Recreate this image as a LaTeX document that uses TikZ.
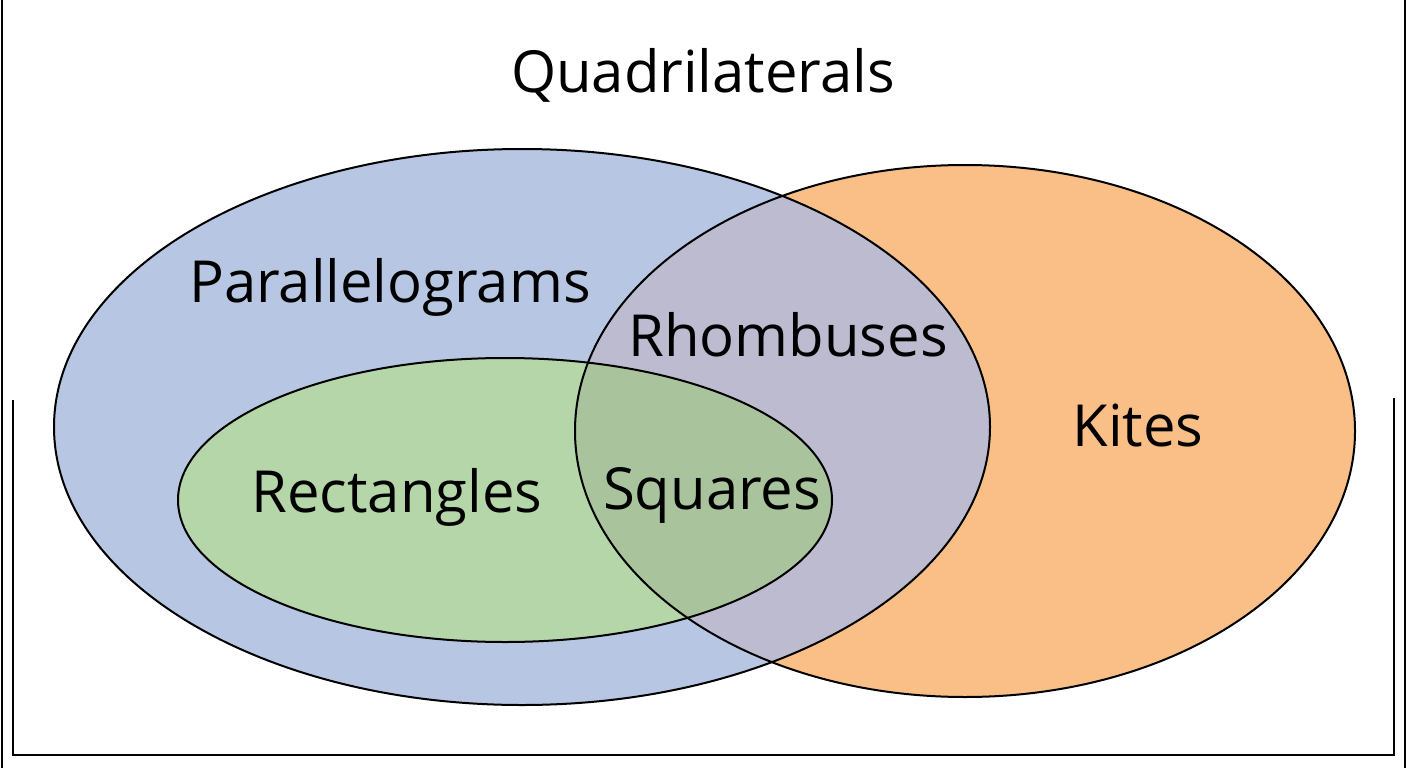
\documentclass[tikz,border=0pt]{standalone}
\usepackage{fontspec}
\setmainfont{Open Sans}
\begin{document}
\begin{tikzpicture}[x=1pt,y=-1pt,
  lab/.style={font=\fontsize{58}{62}\selectfont,text=black},
  edge/.style={draw=black,line width=2pt}]
\useasboundingbox (0,0) rectangle (1408,768);
\fill[white] (0,0) rectangle (1408,768);
\def\blue{(522,427) ellipse [x radius=468, y radius=278]}
\def\orange{(965,431) ellipse [x radius=390, y radius=266]}
\def\green{(505,500) ellipse [x radius=327, y radius=142]}
\fill[fill={rgb,255:red,183;green,199;blue,227}] \blue;
\fill[fill={rgb,255:red,249;green,191;blue,135}] \orange;
\begin{scope}\clip \blue; \fill[fill={rgb,255:red,188;green,187;blue,207}] \orange;\end{scope}
\fill[fill={rgb,255:red,181;green,214;blue,168}] \green;
\begin{scope}\clip \green; \fill[fill={rgb,255:red,169;green,196;blue,156}] \orange;\end{scope}
\draw[edge] \blue; \draw[edge] \orange; \draw[edge] \green;
\draw[line width=2pt] (2,0) -- (2,768);
\draw[line width=2pt] (1405,0) -- (1405,768);
\draw[line width=2.4pt] (13,400) -- (13,755) -- (1394,755) -- (1394,398);
\node[lab] (q) at (703,75) {Quadrilaterals};
\node[lab] (p) at (390,287) {Parallelograms};
\node[lab] (rh) at (788,335) {Rhombuses};
\node[lab] (k) at (1138,425) {Kites};
\node[lab] (re) at (397,497) {Rectangles};
\node[lab] (s) at (712,495) {Squares};
\end{tikzpicture}
\end{document}
